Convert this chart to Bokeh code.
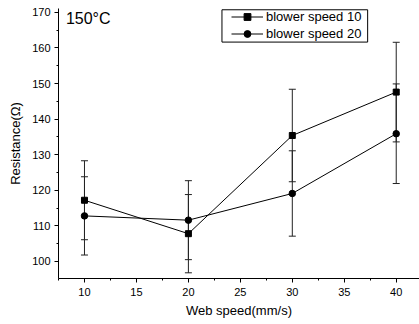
from bokeh.plotting import figure
from bokeh.models import (Range1d, SingleIntervalTicker, Whisker, TeeHead, ColumnDataSource,
                          Legend, LegendItem, BoxAnnotation, Label)
from bokeh.embed import file_html
from bokeh.resources import INLINE

web_speed = [10, 20, 30, 40]
blower10 = [117.2, 107.8, 135.4, 147.6]
blower10_err = [11.1, 11.0, 13.0, 14.0]
blower20 = [112.8, 111.6, 119.1, 135.9]
blower20_err = [11.0, 11.1, 12.0, 14.0]
series_names = ["blower speed 10", "blower speed 20"]
title_text = "150°C"
x_label = "Web speed(mm/s)"
y_label = "Resistance(Ω)"

FONT = "Liberation Sans"

p = figure(width=419, height=324, output_backend="svg", toolbar_location=None,
           x_range=Range1d(7.5, 42.24), y_range=Range1d(95.2, 171.1),
           min_border_left=58, min_border_right=0, min_border_top=8, min_border_bottom=46)
p.outline_line_color = None
p.xgrid.visible = False
p.ygrid.visible = False
p.background_fill_color = "white"
p.border_fill_color = "white"

p.xaxis.ticker = SingleIntervalTicker(interval=5, num_minor_ticks=2)
p.yaxis.ticker = SingleIntervalTicker(interval=10, num_minor_ticks=2)
for ax in (p.xaxis, p.yaxis):
    ax.axis_line_color = "black"
    ax.major_tick_line_color = "black"
    ax.minor_tick_line_color = "black"
    ax.major_tick_in = 0
    ax.major_tick_out = 4
    ax.minor_tick_in = 0
    ax.minor_tick_out = 2
    ax.major_label_text_font = FONT
    ax.major_label_text_font_size = "11px"
    ax.major_label_text_color = "black"
    ax.axis_label_text_font = FONT
    ax.axis_label_text_font_size = "13px"
    ax.axis_label_text_font_style = "normal"
    ax.axis_label_text_color = "black"
p.xaxis.axis_label = x_label
p.yaxis.axis_label = y_label
p.xaxis.major_label_standoff = 5
p.xaxis.axis_label_standoff = 4
p.yaxis.major_label_standoff = 4
p.yaxis.axis_label_standoff = 6

def lower(v, e):
    return [a - b for a, b in zip(v, e)]

def upper(v, e):
    return [a + b for a, b in zip(v, e)]

src10 = ColumnDataSource(dict(x=web_speed, y=blower10, lo=lower(blower10, blower10_err), hi=upper(blower10, blower10_err)))
src20 = ColumnDataSource(dict(x=web_speed, y=blower20, lo=lower(blower20, blower20_err), hi=upper(blower20, blower20_err)))

for src in (src10, src20):
    w = Whisker(source=src, base="x", lower="lo", upper="hi", line_color="#222222", line_width=1,
                upper_head=TeeHead(size=7, line_color="#222222", line_width=1),
                lower_head=TeeHead(size=7, line_color="#222222", line_width=1))
    p.add_layout(w)

l10 = p.line("x", "y", source=src10, line_color="black", line_width=1)
m10 = p.scatter("x", "y", source=src10, marker="square", size=6, fill_color="black", line_color="black")
l20 = p.line("x", "y", source=src20, line_color="black", line_width=1)
m20 = p.scatter("x", "y", source=src20, marker="circle", size=6.5, fill_color="black", line_color="black")

box = BoxAnnotation(left=23.23, right=37.25, top=170.74, bottom=161.66,
                    fill_alpha=0, line_color="black", line_width=1, line_alpha=1)
p.add_layout(box)

legend = Legend(items=[LegendItem(label=series_names[0], renderers=[l10, m10]),
                       LegendItem(label=series_names[1], renderers=[l20, m20])],
                location=(173, 236), padding=0, spacing=0, margin=0,
                glyph_width=32, glyph_height=17, label_height=17, label_standoff=3,
                label_text_font=FONT, label_text_font_size="13px", label_text_color="black",
                border_line_alpha=0, background_fill_alpha=0)
p.add_layout(legend)

p.add_layout(Label(x=8.21, y=168.2, text=title_text, text_font=FONT, text_font_size="16px",
                   text_baseline="middle", text_color="black"))

open("out.html", "w").write(file_html(p, INLINE))
